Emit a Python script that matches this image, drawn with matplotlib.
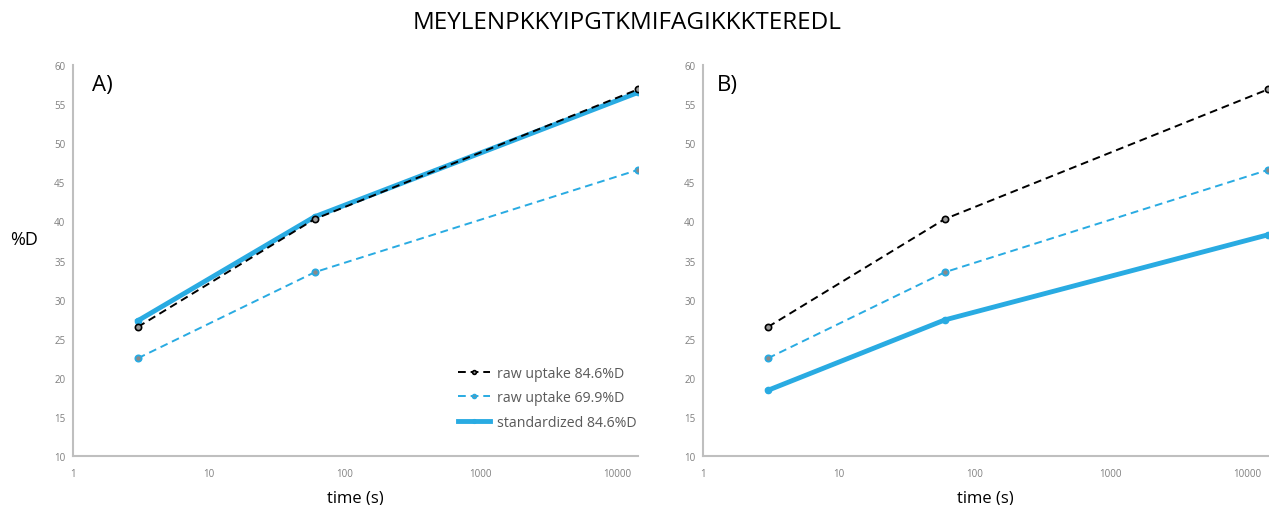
import matplotlib
matplotlib.use("Agg")
import matplotlib.pyplot as plt
from matplotlib.ticker import FixedLocator, FixedFormatter, NullLocator

plt.rcParams['font.family'] = ['Open Sans', 'DejaVu Sans']

peptide = "MEYLENPKKYIPGTKMIFAGIKKKTEREDL"
times = [3, 60, 14400]
raw_846 = [26.5, 40.3, 56.9]
raw_699 = [22.5, 33.5, 46.6]
std_846_a = [27.3, 40.6, 56.5]
std_846_b = [18.4, 27.4, 38.3]

x_ticks = [1, 10, 100, 1000, 10000]
x_labels = ["1", "10", "100", "1000", "10000"]
y_ticks = [10, 15, 20, 25, 30, 35, 40, 45, 50, 55, 60]

cyan = "#29ABE2"
axis_grey = "#BFBFBF"
tick_grey = "#7F7F7F"

fig = plt.figure(figsize=(12.69, 5.06), dpi=100)
ax_a = fig.add_axes([0.0575, 0.0968, 0.4455, 0.7728])
ax_b = fig.add_axes([0.554, 0.0968, 0.4455, 0.7728])


def style_axes(ax):
    ax.set_xscale('log')
    ax.set_xlim(1, 14400)
    ax.set_ylim(10, 60)
    for s in ('top', 'right'):
        ax.spines[s].set_visible(False)
    for s in ('left', 'bottom'):
        ax.spines[s].set_color(axis_grey)
        ax.spines[s].set_linewidth(1.5)
    ax.xaxis.set_major_locator(FixedLocator(x_ticks))
    ax.xaxis.set_major_formatter(FixedFormatter(x_labels))
    ax.xaxis.set_minor_locator(NullLocator())
    ax.set_yticks(y_ticks)
    ax.tick_params(axis='both', length=0, labelsize=7, labelcolor=tick_grey)
    ax.tick_params(axis='x', pad=8.5)
    ax.tick_params(axis='y', pad=5.5)
    ax.set_xlabel("time (s)", fontsize=12, color='black', labelpad=8)


def draw_series(ax, std_vals):
    ax.plot(times, raw_846, linestyle=(0, (4, 2.5)), color='black', lw=1.4,
            marker='o', ms=4.5, mfc='#9A9A9A', mec='black', mew=1.2,
            label="raw uptake 84.6%D", zorder=3)
    ax.plot(times, raw_699, linestyle=(0, (4, 2.5)), color=cyan, lw=1.4,
            marker='o', ms=4.5, mfc='#8A8A8A', mec=cyan, mew=1.3,
            label="raw uptake 69.9%D", zorder=3)
    ax.plot(times, std_vals, linestyle='-', color=cyan, lw=3.5,
            marker='o', ms=4.5, mfc=cyan, mec=cyan,
            label="standardized 84.6%D", zorder=4)


style_axes(ax_a)
style_axes(ax_b)
draw_series(ax_a, std_846_a)
draw_series(ax_b, std_846_b)

# raw curve drawn over the thick standardized line in panel A
ax_a.lines[0].set_zorder(5)

leg = ax_a.legend(loc='lower right', bbox_to_anchor=(1.019, 0.035), frameon=False,
                  fontsize=10.2, handlelength=2.2, labelspacing=0.65, handletextpad=0.5,
                  markerscale=0.6)
for t in leg.get_texts():
    t.set_color('#595959')

ax_a.text(0.034, 0.95, "A)", transform=ax_a.transAxes, fontsize=16, va='center', ha='left')
ax_b.text(0.025, 0.95, "B)", transform=ax_b.transAxes, fontsize=16, va='center', ha='left')

fig.text(0.019, 0.525, "%D", fontsize=13, ha='center', va='center')
fig.text(0.494, 0.955, peptide, fontsize=17.5, ha='center', va='center')

fig.savefig("out.png", dpi=100)
